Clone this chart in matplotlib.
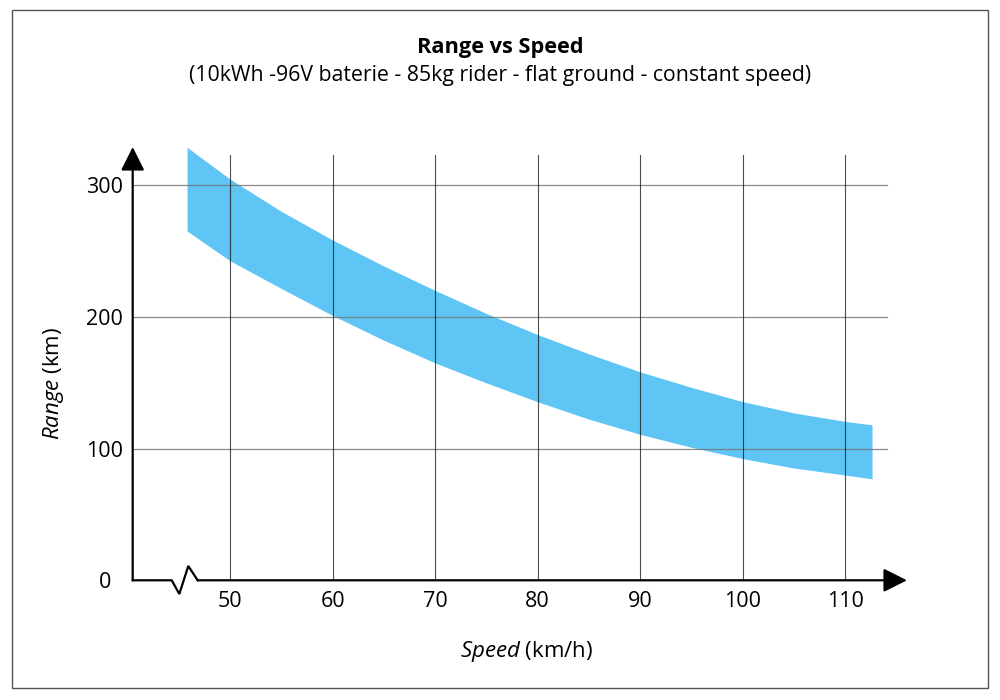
import matplotlib
matplotlib.use("Agg")
import matplotlib.pyplot as plt
from matplotlib.patches import Rectangle

plt.rcParams['font.family'] = ['Open Sans', 'DejaVu Sans']
plt.rcParams['mathtext.fontset'] = 'custom'
plt.rcParams['mathtext.rm'] = 'Open Sans'
plt.rcParams['mathtext.it'] = 'Open Sans:italic'

# ---- data ----
speed = [45.8, 50, 55, 60, 65, 70, 75, 80, 85, 90, 95, 100, 105, 110, 112.6]
range_high = [328.7, 304.5, 280.0, 258.3, 238.5, 220.0, 202.5, 186.5, 171.8,
              158.2, 146.4, 135.6, 127.0, 120.6, 118.0]
range_low = [265.2, 242.5, 221.5, 201.0, 182.2, 165.0, 149.8, 135.5, 122.3,
             110.8, 100.9, 92.4, 85.2, 79.9, 77.0]
x_ticks = [50, 60, 70, 80, 90, 100, 110]
y_ticks = [0, 100, 200, 300]
title = "Range vs Speed"
subtitle = "(10kWh -96V baterie - 85kg rider - flat ground - constant speed)"

band_color = '#5EC5F4'

fig = plt.figure(figsize=(10, 7), dpi=100)
ax = fig.add_axes([0.1327, (700 - 580.3) / 700, 0.7743, (580.3 - 147) / 700])
ax.set_xlim(40.50, 116.01)
ax.set_ylim(0, 328.9)
for s in ax.spines.values():
    s.set_visible(False)

ax.fill_between(speed, range_low, range_high, color=band_color, lw=0, zorder=1)

for yv in y_ticks[1:]:
    ax.axhline(yv, xmin=0, xmax=0.9746, color='#777777', lw=0.9, alpha=0.85, zorder=2)
for xv in x_ticks:
    ax.axvline(xv, ymin=0, ymax=0.9815, color='#111111', lw=0.8, alpha=0.75, zorder=2)

ax.set_xticks(x_ticks)
ax.set_xticklabels([str(v) for v in x_ticks])
ax.set_yticks(y_ticks)
ax.set_yticklabels([str(v) for v in y_ticks], ha='center')
ax.tick_params(axis='both', length=0, labelsize=15.5, colors='black')
ax.tick_params(axis='x', pad=8)
ax.tick_params(axis='y', pad=20)

arrow_style = '-|>,head_length=1.0,head_width=0.5'
# y axis with arrow
ax.annotate('', xy=(0, 1.0), xytext=(0, 0), xycoords='axes fraction',
            textcoords='axes fraction',
            arrowprops=dict(arrowstyle=arrow_style, mutation_scale=14.4,
                            color='black', lw=1.6, shrinkA=0, shrinkB=0), zorder=5)
# x axis with break
bx = [0, 0.0504, 0.0602, 0.0718, 0.0839]
by = [0, 0, -0.0316, 0.033, 0]
ax.plot(bx, by, transform=ax.transAxes, color='black', lw=1.6, clip_on=False,
        zorder=5, solid_joinstyle='miter')
ax.annotate('', xy=(1.0, 0), xytext=(0.0839, 0), xycoords='axes fraction',
            textcoords='axes fraction',
            arrowprops=dict(arrowstyle=arrow_style, mutation_scale=14.4,
                            color='black', lw=1.6, shrinkA=0, shrinkB=0), zorder=5)

fig.text(0.5, 1 - 47 / 700, title, ha='center', va='center', fontsize=15.7,
         fontweight='bold')
fig.text(0.5, 1 - 76 / 700, subtitle, ha='center', va='center', fontsize=15.3)

fig.text(0.527, 1 - 652 / 700, r'$\mathit{Speed}$ (km/h)', ha='center', va='center',
         fontsize=16)
fig.text(0.053, 1 - 383 / 700, r'$\mathit{Range}$ (km)', ha='center', va='center',
         fontsize=16, rotation=90)

fig.patches.append(Rectangle((0.012, 1 - 688 / 700), 0.976, 678 / 700,
                             transform=fig.transFigure, fill=False,
                             edgecolor='#555555', lw=1.0))

fig.savefig('out.png', dpi=100)
